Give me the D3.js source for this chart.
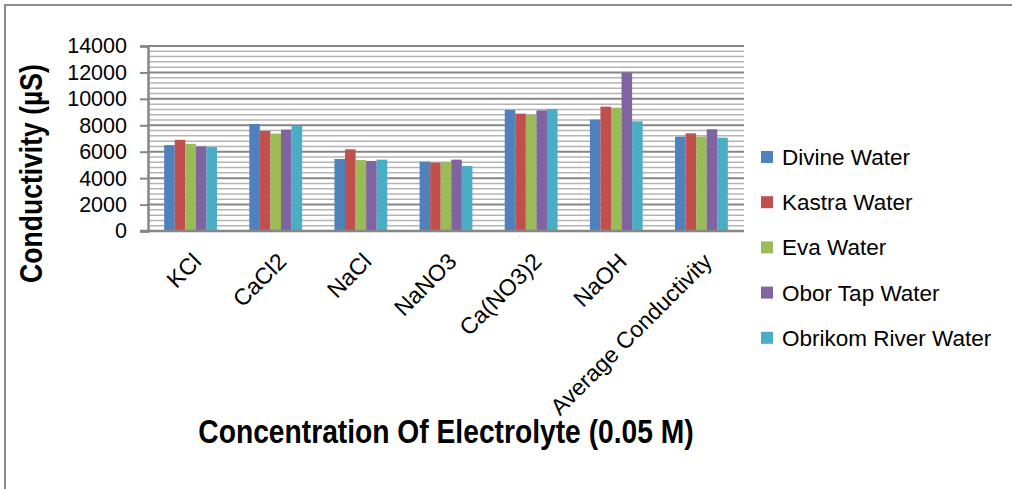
<!DOCTYPE html>
<html>
<head>
<meta charset="utf-8">
<script src="https://cdn.jsdelivr.net/npm/d3@7"></script>
<style>
  html, body { margin: 0; padding: 0; background: #fff; }
  svg { display: block; }
  text { font-family: "Liberation Sans", Arial, sans-serif; fill: #000; }
</style>
</head>
<body>
<svg id="chart" width="1012" height="489"></svg>
<script>
// Electrolytes (0.05 M) measured in each water sample
const categories = ["KCl", "CaCl2", "NaCl", "NaNO3", "Ca(NO3)2", "NaOH", "Average Conductivity"];
const seriesNames = ["Divine Water", "Kastra Water", "Eva Water", "Obor Tap Water", "Obrikom River Water"];
const divineWater = [6500, 8100, 5450, 5250, 9160, 8430, 7140];
const kastraWater = [6900, 7570, 6180, 5170, 8880, 9410, 7390];
const evaWater    = [6600, 7370, 5370, 5220, 8800, 9330, 7140];
const oborTap     = [6400, 7670, 5300, 5400, 9130, 11980, 7700];
const obrikomRiver = [6350, 7950, 5400, 4920, 9235, 8300, 7060];
const seriesValues = [divineWater, kastraWater, evaWater, oborTap, obrikomRiver];
const colors = ["#4F81BD", "#C0504D", "#9BBB59", "#8064A2", "#4BACC6"];
const yTicks = [0, 2000, 4000, 6000, 8000, 10000, 12000, 14000];

const svg = d3.select("#chart");

// outer frame (top and left edges visible)
svg.append("path")
  .attr("d", "M5,489 L5,5 L1012,5")
  .attr("fill", "none").attr("stroke", "#8c8c8c").attr("stroke-width", 2);

const plot = { left: 148, right: 744, top: 46, bottom: 231 };

const x0 = d3.scaleBand().domain(categories).range([plot.left, plot.right]).paddingInner(0.38).paddingOuter(0.19);
const x1 = d3.scaleBand().domain(seriesNames).range([0, x0.bandwidth()]);
const y = d3.scaleLinear().domain([0, 14000]).range([plot.bottom, plot.top]);

// minor gridlines every 400
const minor = d3.range(400, 14000, 400).filter(v => v % 2000 !== 0);
svg.append("g").selectAll("line").data(minor).join("line")
  .attr("x1", plot.left).attr("x2", plot.right)
  .attr("y1", d => y(d)).attr("y2", d => y(d))
  .attr("stroke", "#b4b4b4").attr("stroke-width", 1.5);

// major gridlines
svg.append("g").selectAll("line").data(yTicks.filter(v => v > 0)).join("line")
  .attr("x1", plot.left).attr("x2", plot.right)
  .attr("y1", d => y(d)).attr("y2", d => y(d))
  .attr("stroke", "#868686").attr("stroke-width", 2);

// bars
const groups = svg.append("g").selectAll("g").data(categories).join("g")
  .attr("transform", c => `translate(${x0(c)},0)`);
groups.selectAll("rect")
  .data((c, i) => seriesNames.map((s, j) => ({ s, j, v: seriesValues[j][i] })))
  .join("rect")
  .attr("x", d => x1(d.s))
  .attr("width", x1.bandwidth())
  .attr("y", d => y(d.v))
  .attr("height", d => y(0) - y(d.v))
  .attr("fill", d => colors[d.j]);

// y axis
const yAxis = svg.append("g").attr("transform", `translate(${plot.left},0)`)
  .call(d3.axisLeft(y).tickValues(yTicks).tickSize(8).tickPadding(13).tickFormat(d3.format("d")));
yAxis.select(".domain").attr("stroke", "#868686").attr("stroke-width", 2.5);
yAxis.selectAll(".tick line").attr("stroke", "#868686").attr("stroke-width", 2);
yAxis.selectAll(".tick text").style("font-size", "21.5px").attr("font-family", "Liberation Sans, Arial, sans-serif");

// x axis baseline
svg.append("line")
  .attr("x1", plot.left - 8).attr("x2", plot.right)
  .attr("y1", y(0)).attr("y2", y(0))
  .attr("stroke", "#868686").attr("stroke-width", 2.5);

// category labels, rotated
svg.append("g").selectAll("text").data(categories).join("text")
  .attr("transform", c => `translate(${x0(c) + x0.bandwidth() / 2 + 12},${plot.bottom + 32}) rotate(-45)`)
  .attr("text-anchor", "end")
  .style("font-size", "23px")
  .text(c => c);

// axis titles, condensed bold
svg.append("g")
  .attr("transform", `translate(42,${(62 + 285) / 2}) rotate(-90) scale(0.83,1)`)
  .append("text")
  .attr("text-anchor", "middle")
  .style("font-size", "32px").style("font-weight", "bold")
  .text("Conductivity (µS)");

svg.append("g")
  .attr("transform", "translate(446,443) scale(0.83,1)")
  .append("text")
  .attr("text-anchor", "middle")
  .style("font-size", "34px").style("font-weight", "bold")
  .text("Concentration Of Electrolyte (0.05 M)");

// legend
const legend = svg.append("g").selectAll("g").data(seriesNames).join("g")
  .attr("transform", (d, i) => `translate(761,${157 + i * 45.2})`);
legend.append("rect").attr("x", 0).attr("y", -6).attr("width", 12).attr("height", 12)
  .attr("fill", (d, i) => colors[i]);
legend.append("text").attr("x", 21).attr("y", 8)
  .style("font-size", "22.5px")
  .text(d => d);
</script>
</body>
</html>
